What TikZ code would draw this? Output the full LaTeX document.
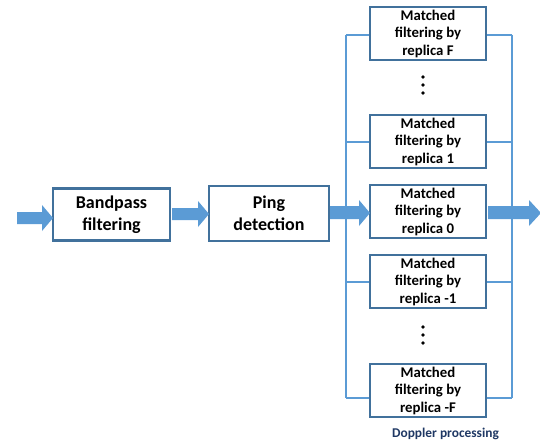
\documentclass[tikz,border=0pt]{standalone}
\usepackage{fontspec}
\setmainfont{Carlito}
\definecolor{arrowblue}{HTML}{5B9BD5}
\definecolor{boxedge}{HTML}{41719C}
\definecolor{busline}{HTML}{5B9BD5}
\definecolor{navy}{HTML}{1F3864}
\begin{document}
\begin{tikzpicture}[x=1pt,y=-1pt,
  bigbox/.style={draw=boxedge,line width=2.2pt,fill=white,minimum width=117pt,minimum height=52pt,align=center,font=\fontsize{18}{22}\selectfont\bfseries,inner sep=0pt},
  mfbox/.style={draw=boxedge,line width=2.2pt,fill=white,minimum width=116pt,minimum height=53pt,align=center,font=\fontsize{14.8}{17.5}\selectfont\bfseries,inner sep=0pt},
  bus/.style={draw=busline,line width=2pt},
  blockarrow/.style={fill=arrowblue},
  dot/.style={circle,fill=black,inner sep=0pt,minimum size=3.8pt}
]
\useasboundingbox (0,0) rectangle (540,444);
% bus lines
\draw[bus] (346,35) -- (346,398);
\draw[bus] (512,35) -- (512,398);
% boxes
\node[bigbox] (bp) at (111.5,214.5) {Bandpass\\filtering};
\node[bigbox,minimum width=120pt,minimum height=55pt] (ping) at (269,213.5) {Ping\\detection};
\node[mfbox] (mF) at (428,33.5) {Matched\\filtering by\\replica F};
\node[mfbox] (m1) at (428,141.5) {Matched\\filtering by\\replica 1};
\node[mfbox] (m0) at (428,211.5) {Matched\\filtering by\\replica 0};
\node[mfbox] (mm1) at (428,281.5) {Matched\\filtering by\\replica -1};
\node[mfbox] (mmF) at (428,390.5) {Matched\\filtering by\\replica -F};
% bus branches
\draw[bus] (346,35) -- (mF.west |- 0,35);
\draw[bus] (mF.east |- 0,35) -- (512,35);
\draw[bus] (346,142) -- (m1.west |- 0,142);
\draw[bus] (m1.east |- 0,142) -- (512,142);
\draw[bus] (346,282) -- (mm1.west |- 0,282);
\draw[bus] (mm1.east |- 0,282) -- (512,282);
\draw[bus] (346,398) -- (mmF.west |- 0,398);
\draw[bus] (mmF.east |- 0,398) -- (512,398);
% dots
\node[dot] (d1) at (423,77) {};
\node[dot] (d2) at (423,85) {};
\node[dot] (d3) at (423,93) {};
\node[dot] (d4) at (423,327) {};
\node[dot] (d5) at (423,335) {};
\node[dot] (d6) at (423,343) {};
% block arrows
\fill[blockarrow] (17,212) -- (42,212) -- (42,205) -- (53,218) -- (42,231) -- (42,224) -- (17,224) -- cycle;
\fill[blockarrow] (172,208) -- (198,208) -- (198,201) -- (209,214) -- (198,227) -- (198,220) -- (172,220) -- cycle;
\fill[blockarrow] (330,206) -- (359,206) -- (359,200) -- (370,213) -- (359,226) -- (359,219) -- (330,219) -- cycle;
\fill[blockarrow] (488,206) -- (529,206) -- (529,200) -- (541,213) -- (529,226) -- (529,219) -- (488,219) -- cycle;
\node[font=\fontsize{13.4}{16}\selectfont\bfseries,text=navy] (dp) at (445.5,434) {Doppler processing};
\end{tikzpicture}
\end{document}
